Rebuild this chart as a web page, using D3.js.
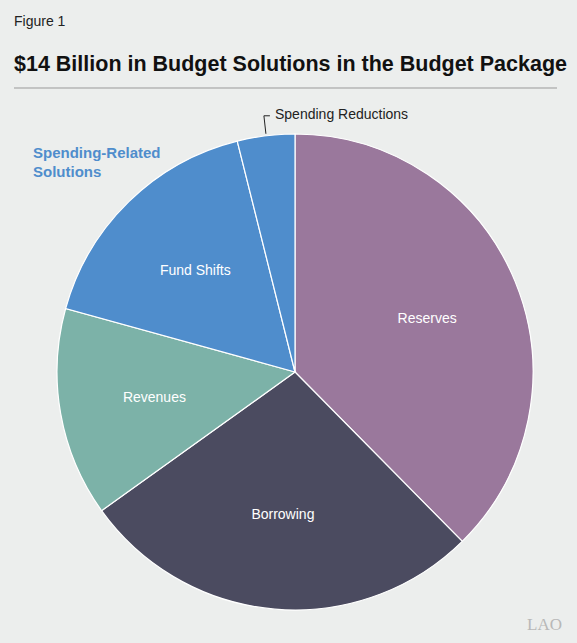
<!DOCTYPE html>
<html>
<head>
<meta charset="utf-8">
<script src="https://cdn.jsdelivr.net/npm/d3@7"></script>
<style>
body { margin: 0; background: #eceeed; }
svg { font-family: "Liberation Sans", Arial, sans-serif; }
</style>
</head>
<body>
<div id="vis"></div>
<script>
// data (share of $14 billion, percent)
var categories = ['Reserves', 'Borrowing', 'Revenues', 'Fund Shifts', 'Spending Reductions'];
var values = [37.6, 27.5, 14.2, 16.8, 3.9];
var colors = ['#9a789c', '#4b4b60', '#7cb2a8', '#4f8dcc', '#4f8dcc'];

var width = 577, height = 643;
var cx = 295, cy = 372, radius = 238;

var svg = d3.select('#vis').append('svg')
    .attr('width', width)
    .attr('height', height);

svg.append('rect').attr('width', width).attr('height', height).attr('fill', '#eceeed');

svg.append('text').attr('x', 14).attr('y', 26)
    .attr('font-size', 14).attr('fill', '#222').text('Figure 1');
svg.append('text').attr('x', 14).attr('y', 71)
    .attr('font-size', 21.5).attr('font-weight', 'bold').attr('fill', '#111')
    .attr('textLength', 553).text('$14 Billion in Budget Solutions in the Budget Package');
svg.append('line').attr('x1', 14).attr('x2', 557).attr('y1', 88).attr('y2', 88)
    .attr('stroke', '#999').attr('stroke-width', 1);

var pie = d3.pie().sort(null).value(function(d) { return d; });
var arcs = pie(values);
var arc = d3.arc().innerRadius(0).outerRadius(radius);
var labelArc = d3.arc().innerRadius(radius * 0.6).outerRadius(radius * 0.6);

var g = svg.append('g').attr('transform', 'translate(' + cx + ',' + cy + ')');

g.selectAll('path')
    .data(arcs)
    .enter().append('path')
    .attr('d', arc)
    .attr('fill', function(d, i) { return colors[i]; })
    .attr('stroke', '#fff')
    .attr('stroke-width', 1.2);

g.selectAll('.lbl')
    .data(arcs.slice(0, 4))
    .enter().append('text')
    .attr('class', 'lbl')
    .attr('transform', function(d) { return 'translate(' + labelArc.centroid(d) + ')'; })
    .attr('text-anchor', 'middle')
    .attr('dy', '0.35em')
    .attr('font-size', 14)
    .attr('fill', '#fff')
    .text(function(d, i) { return categories[i]; });

// callout for the small slice
var small = arcs[4];
var mid = (small.startAngle + small.endAngle) / 2;
var p0 = [Math.sin(mid) * radius, -Math.cos(mid) * radius];
g.append('path')
    .attr('d', 'M' + p0[0] + ',' + (p0[1] - 2) + 'L' + (p0[0] - 2) + ',' + (p0[1] - 20) + 'L' + (p0[0] + 4) + ',' + (p0[1] - 20))
    .attr('fill', 'none').attr('stroke', '#222').attr('stroke-width', 1);
svg.append('text').attr('x', 275).attr('y', 119)
    .attr('font-size', 14).attr('fill', '#222').text(categories[4]);

var grp = svg.append('text').attr('font-size', 15).attr('font-weight', 'bold').attr('fill', '#4f8dcc');
grp.append('tspan').attr('x', 33).attr('y', 158).text('Spending-Related');
grp.append('tspan').attr('x', 33).attr('y', 177).text('Solutions');

svg.append('text').attr('x', 562).attr('y', 630).attr('text-anchor', 'end')
    .attr('font-family', 'Liberation Serif, serif').attr('font-size', 17)
    .attr('fill', '#b8b8b8').text('LAO');
</script>
</body>
</html>
